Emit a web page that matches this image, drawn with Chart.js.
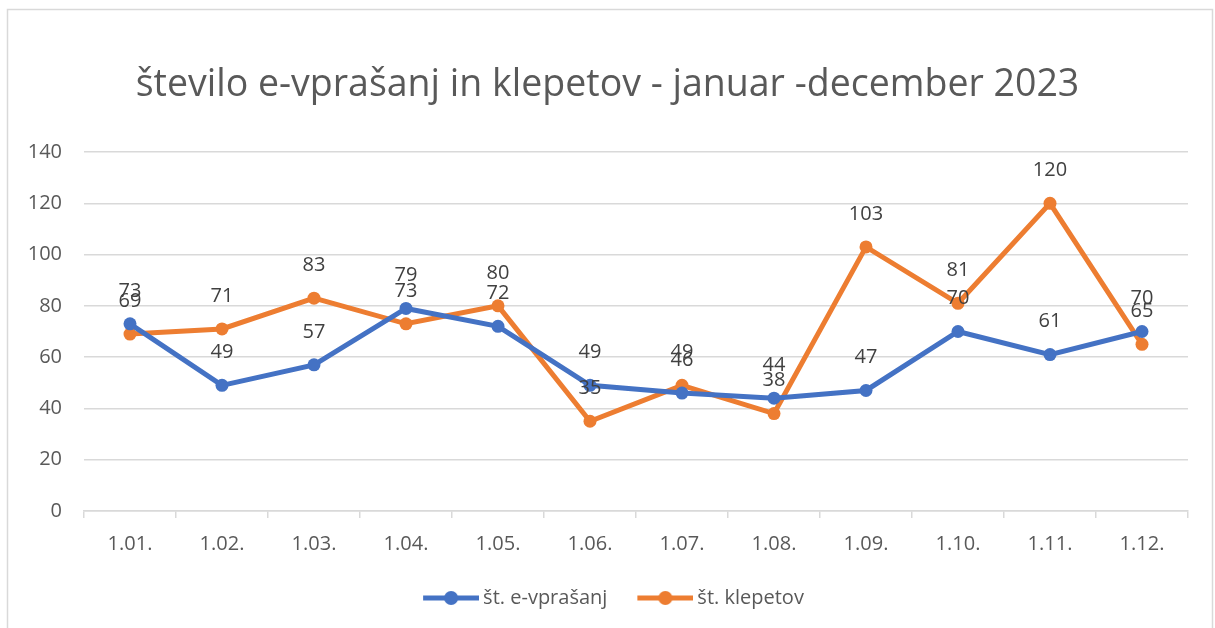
<!DOCTYPE html>
<html>
<head>
<meta charset="utf-8">
<script src="https://cdn.jsdelivr.net/npm/chart.js@4.4.0/dist/chart.umd.min.js"></script>
<style>
  html, body { margin: 0; padding: 0; background: #fff; }
  #wrap { width: 1215px; height: 628px; }
</style>
</head>
<body>
<div id="wrap"><canvas id="c" width="1215" height="628"></canvas></div>
<script>
const months = ['1.01.', '1.02.', '1.03.', '1.04.', '1.05.', '1.06.', '1.07.', '1.08.', '1.09.', '1.10.', '1.11.', '1.12.'];
const vprasanja = [73, 49, 57, 79, 72, 49, 46, 44, 47, 70, 61, 70];
const klepeti = [69, 71, 83, 73, 80, 35, 49, 38, 103, 81, 120, 65];
const yTicks = [0, 20, 40, 60, 80, 100, 120, 140];

const blue = '#4472C4';
const orange = '#ED7D31';
const font = "'Open Sans', 'DejaVu Sans', sans-serif";

// legend marker: short line with a dot in the middle,
// shifted right so it sits close to its text
function legendMark(color) {
    const cv = document.createElement('canvas');
    cv.width = 74;
    cv.height = 16;
    const g = cv.getContext('2d');
    g.strokeStyle = color;
    g.lineWidth = 5;
    g.beginPath();
    g.moveTo(18, 8);
    g.lineTo(74, 8);
    g.stroke();
    g.fillStyle = color;
    g.beginPath();
    g.arc(46, 8, 7, 0, Math.PI * 2);
    g.fill();
    return cv;
}

const frame = {
    id: 'frame',
    beforeDraw(chart) {
        const ctx = chart.ctx;
        ctx.save();
        ctx.strokeStyle = '#d9d9d9';
        ctx.lineWidth = 1.5;
        ctx.strokeRect(7.5, 9.5, 1205, 640);
        ctx.restore();
    }
};

const valueLabels = {
    id: 'valueLabels',
    afterDatasetsDraw(chart) {
        const ctx = chart.ctx;
        ctx.save();
        ctx.font = '20px ' + font;
        ctx.fillStyle = '#404040';
        ctx.textAlign = 'center';
        ctx.textBaseline = 'middle';
        chart.data.datasets.forEach((ds, i) => {
            const meta = chart.getDatasetMeta(i);
            meta.data.forEach((pt, j) => {
                ctx.fillText(String(ds.data[j]), pt.x, pt.y - 33);
            });
        });
        ctx.restore();
    }
};

new Chart(document.getElementById('c'), {
    type: 'line',
    data: {
        labels: months,
        datasets: [{
            label: 'št. e-vprašanj',
            data: vprasanja,
            borderColor: blue,
            backgroundColor: blue,
            borderWidth: 5,
            pointRadius: 6.5,
            pointHoverRadius: 6.5,
            pointBorderWidth: 0,
            pointStyle: 'circle',
            tension: 0,
        }, {
            label: 'št. klepetov',
            data: klepeti,
            borderColor: orange,
            backgroundColor: orange,
            borderWidth: 5,
            pointRadius: 6.5,
            pointHoverRadius: 6.5,
            pointBorderWidth: 0,
            pointStyle: 'circle',
            tension: 0,
        }]
    },
    options: {
        responsive: false,
        animation: false,
        devicePixelRatio: 1,
        layout: {
            padding: { top: 63, right: 27, bottom: 10, left: 27 }
        },
        plugins: {
            title: {
                display: true,
                text: 'število e-vprašanj in klepetov - januar -december 2023',
                color: '#595959',
                font: { family: font, size: 37.5, weight: 'normal' },
                padding: { top: 0, bottom: 44 }
            },
            legend: {
                position: 'bottom',
                labels: {
                    usePointStyle: true,
                    pointStyleWidth: 62,
                    boxHeight: 16,
                    color: '#595959',
                    font: { family: font, size: 20 },
                    padding: 18,
                    sort: (a, b) => a.datasetIndex - b.datasetIndex,
                    generateLabels(chart) {
                        return chart.data.datasets.map((ds, i) => ({
                            text: ds.label,
                            datasetIndex: i,
                            pointStyle: legendMark(ds.borderColor),
                            fillStyle: ds.borderColor,
                            strokeStyle: ds.borderColor,
                            lineWidth: 0,
                            fontColor: '#595959',
                            hidden: false
                        }));
                    }
                }
            },
            tooltip: { enabled: false }
        },
        scales: {
            x: {
                offset: true,
                grid: {
                    display: true,
                    drawOnChartArea: false,
                    drawTicks: true,
                    tickLength: 7,
                    color: '#d9d9d9',
                    lineWidth: 1.5,
                    offset: true
                },
                border: { display: true, color: '#d9d9d9', width: 1.5 },
                ticks: {
                    color: '#595959',
                    font: { family: font, size: 20 },
                    padding: 14,
                    maxRotation: 0,
                    autoSkip: false
                }
            },
            y: {
                min: 0,
                max: 140,
                afterBuildTicks(scale) {
                    scale.ticks = yTicks.map(v => ({ value: v }));
                },
                afterFit(scale) {
                    scale.width = 57;
                },
                grid: {
                    color: '#d9d9d9',
                    lineWidth: 1.5,
                    drawTicks: false
                },
                border: { display: false },
                ticks: {
                    color: '#595959',
                    font: { family: font, size: 20 },
                    padding: 22
                }
            }
        }
    },
    plugins: [frame, valueLabels]
});
</script>
</body>
</html>
